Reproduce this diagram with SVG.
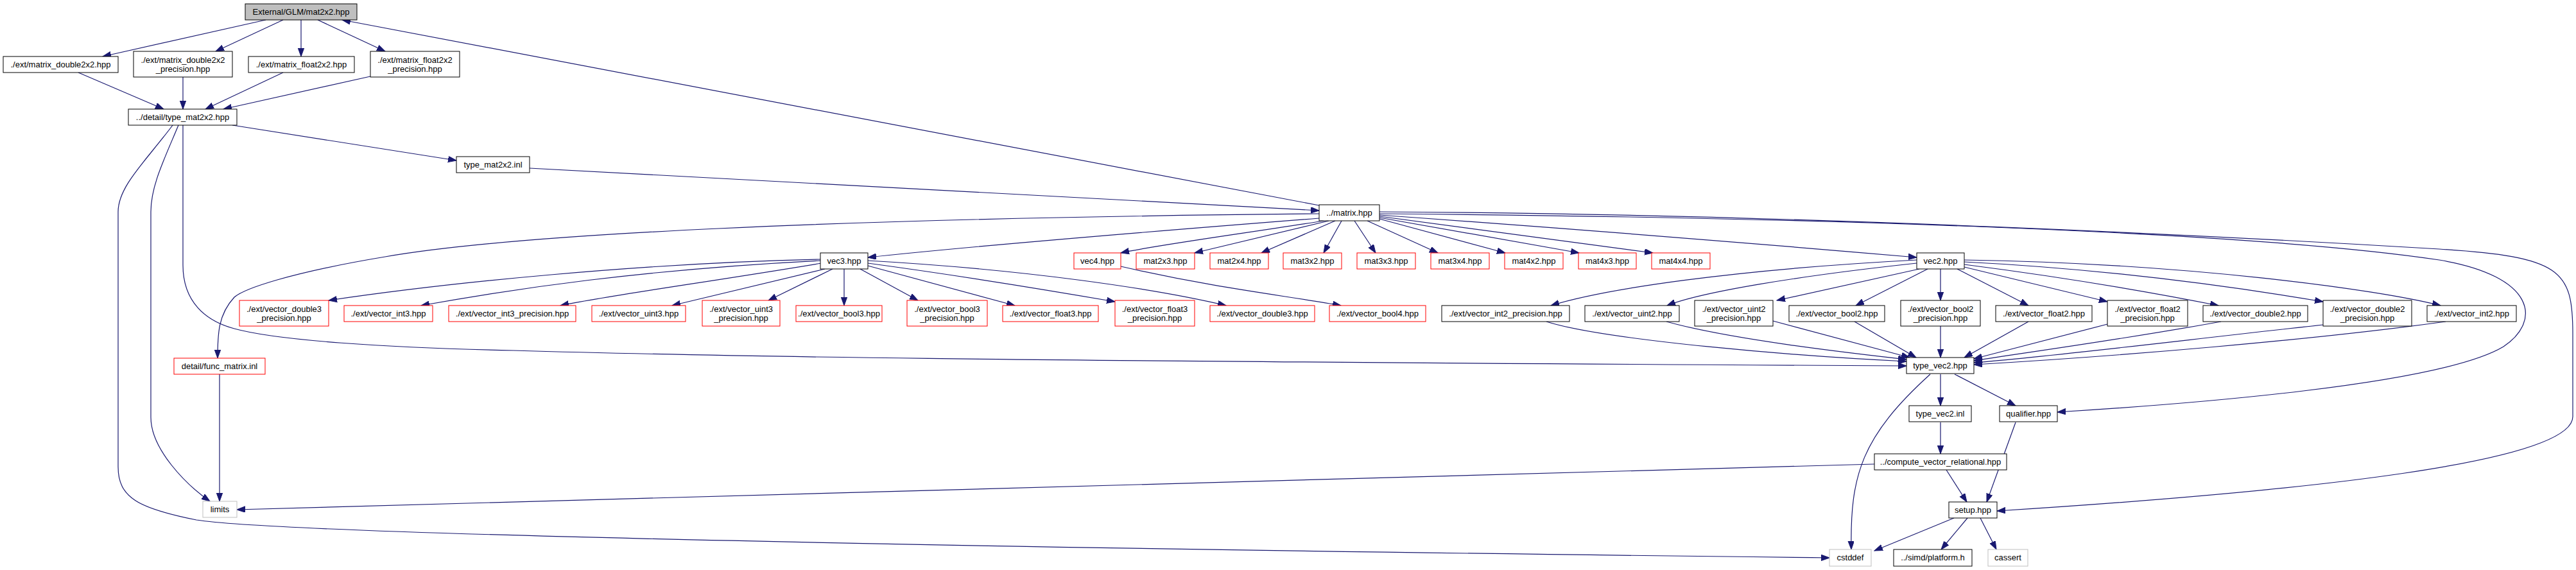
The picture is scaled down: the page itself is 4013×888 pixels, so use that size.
<svg xmlns="http://www.w3.org/2000/svg" width="4013" height="888" viewBox="0 0 4013 888">
<style>
.n rect{fill:#fff;stroke:#000;stroke-width:1}
.n.r rect{stroke:#ff0000}
.n.g rect{stroke:#bfbfbf}
.n.m rect{fill:#bfbfbf}
text{font-family:"Liberation Sans",Arial,sans-serif;font-size:13px;text-anchor:middle;fill:#000}
#edges path{fill:none;stroke:#191970;stroke-width:1.2;marker-end:url(#a)}
</style>
<defs>
<marker id="a" markerUnits="userSpaceOnUse" markerWidth="14" markerHeight="10" refX="13" refY="4.7" orient="auto"><path d="M0,0 L13,4.7 L0,9.4 z" fill="#191970" stroke="#191970" stroke-width="1"/></marker>
</defs>
<rect width="4013" height="888" fill="#fff"/>
<g id="edges">
<path d="M414,31 L160,88"/>
<path d="M441,31 L336,80"/>
<path d="M469,31 L469,88"/>
<path d="M495,31 L600,80"/>
<path d="M2055,320 L533,31"/>
<path d="M122,113 L255,170"/>
<path d="M285,120 L285,170"/>
<path d="M441,113 L320,170"/>
<path d="M577,119 L348,170"/>
<path d="M362,195 L711,250"/>
<path d="M825,262 L2055,328"/>
<path d="M278,195 C255,250 235,290 235,330 L235,650 C235,700 290,755 327,781"/>
<path d="M269,195 C228,250 184,290 184,330 L184,727 C184,775 215,792 306,810 C420,828 1200,850 2850,869"/>
<path d="M285,195 L285,413 C285,470 320,500 365,512 C430,530 600,542 800,546 C1100,555 1500,562 2970,570"/>
<path d="M2055,333 C1300,340 800,365 600,400 C450,425 380,450 365,463 C340,490 339,520 339,558"/>
<path d="M342,583 L342,781"/>
<path d="M2920,723 L369,794"/>
<path d="M2055,340 C1800,360 1500,385 1352,401"/>
<path d="M2062,344 C1950,362 1800,382 1746,394"/>
<path d="M2070,344 L1861,394"/>
<path d="M2080,344 L1965,394"/>
<path d="M2090,344 L2062,394"/>
<path d="M2110,344 L2143,394"/>
<path d="M2130,344 L2240,394"/>
<path d="M2149,341 L2345,394"/>
<path d="M2149,339 L2460,394"/>
<path d="M2149,337 L2575,394"/>
<path d="M2149,335 C2500,360 2800,385 2986,401"/>
<path d="M2149,333 C2800,338 3500,360 3800,405 C3950,430 3960,500 3900,540 C3800,600 3400,630 3205,642"/>
<path d="M2149,330 C2800,333 3500,370 3800,388 C3990,400 4008,420 4008,520 L4008,649 C4008,720 3600,765 3111,796"/>
<path d="M1278,404 C1000,410 700,440 512,468"/>
<path d="M1278,406 C1000,420 800,450 656,476"/>
<path d="M1280,410 C1100,440 950,460 873,476"/>
<path d="M1285,419 L1047,476"/>
<path d="M1297,419 L1197,468"/>
<path d="M1315,419 L1315,476"/>
<path d="M1340,419 L1430,468"/>
<path d="M1352,414 L1581,476"/>
<path d="M1352,410 C1500,430 1650,455 1737,470"/>
<path d="M1352,406 C1600,420 1800,450 1910,476"/>
<path d="M1746,415 C1900,450 2000,460 2089,476"/>
<path d="M2986,405 C2700,420 2500,450 2416,476"/>
<path d="M2986,410 C2800,430 2650,455 2597,476"/>
<path d="M2990,419 L2768,468"/>
<path d="M3003,419 L2891,476"/>
<path d="M3023,419 L3023,468"/>
<path d="M3049,419 L3160,476"/>
<path d="M3060,416 L3283,470"/>
<path d="M3060,412 C3200,430 3350,455 3456,476"/>
<path d="M3060,408 C3300,420 3500,450 3619,470"/>
<path d="M3060,405 C3400,410 3700,450 3802,476"/>
<path d="M2409,501 C2500,530 2800,555 2970,563"/>
<path d="M2596,501 C2700,530 2900,552 2970,560"/>
<path d="M2762,500 L2975,557"/>
<path d="M2889,501 L2985,557"/>
<path d="M3023,508 L3023,557"/>
<path d="M3160,501 L3060,557"/>
<path d="M3283,505 L3075,559"/>
<path d="M3460,501 C3300,530 3150,550 3075,562"/>
<path d="M3619,506 C3400,530 3200,555 3075,565"/>
<path d="M3810,501 C3600,530 3300,555 3075,568"/>
<path d="M3023,583 L3023,632"/>
<path d="M3007,583 C2900,680 2882,740 2884,856"/>
<path d="M3045,583 L3140,632"/>
<path d="M3023,658 L3023,707"/>
<path d="M3032,732 L3064,782"/>
<path d="M3044,807 L2920,858"/>
<path d="M3065,807 L3024,856"/>
<path d="M3085,807 L3110,856"/>
<path d="M3140,658 L3095,782"/>
</g>
<g id="n_main" class="n m"><rect x="382" y="6" width="174" height="25"/><text x="469" y="23">External/GLM/mat2x2.hpp</text></g>
<g id="n_md2" class="n"><rect x="5" y="88" width="179" height="25"/><text x="94.5" y="105">./ext/matrix_double2x2.hpp</text></g>
<g id="n_md2p" class="n"><rect x="208" y="80" width="154" height="40"/><text x="285" y="98">./ext/matrix_double2x2</text><text x="285" y="112">_precision.hpp</text></g>
<g id="n_mf2" class="n"><rect x="387" y="88" width="165" height="25"/><text x="469.5" y="105">./ext/matrix_float2x2.hpp</text></g>
<g id="n_mf2p" class="n"><rect x="577" y="80" width="139" height="40"/><text x="646.5" y="98">./ext/matrix_float2x2</text><text x="646.5" y="112">_precision.hpp</text></g>
<g id="n_tm" class="n"><rect x="200" y="170" width="169" height="25"/><text x="284.5" y="187">../detail/type_mat2x2.hpp</text></g>
<g id="n_tminl" class="n"><rect x="711" y="244" width="114" height="25"/><text x="768" y="261">type_mat2x2.inl</text></g>
<g id="n_matrix" class="n"><rect x="2055" y="319" width="94" height="25"/><text x="2102" y="336">../matrix.hpp</text></g>
<g id="n_vec3" class="n"><rect x="1278" y="394" width="74" height="25"/><text x="1315" y="411">vec3.hpp</text></g>
<g id="n_vec4" class="n r"><rect x="1673" y="394" width="73" height="25"/><text x="1709.5" y="411">vec4.hpp</text></g>
<g id="n_m23" class="n r"><rect x="1770" y="394" width="91" height="25"/><text x="1815.5" y="411">mat2x3.hpp</text></g>
<g id="n_m24" class="n r"><rect x="1885" y="394" width="91" height="25"/><text x="1930.5" y="411">mat2x4.hpp</text></g>
<g id="n_m32" class="n r"><rect x="1999" y="394" width="91" height="25"/><text x="2044.5" y="411">mat3x2.hpp</text></g>
<g id="n_m33" class="n r"><rect x="2114" y="394" width="91" height="25"/><text x="2159.5" y="411">mat3x3.hpp</text></g>
<g id="n_m34" class="n r"><rect x="2229" y="394" width="91" height="25"/><text x="2274.5" y="411">mat3x4.hpp</text></g>
<g id="n_m42" class="n r"><rect x="2344" y="394" width="91" height="25"/><text x="2389.5" y="411">mat4x2.hpp</text></g>
<g id="n_m43" class="n r"><rect x="2459" y="394" width="90" height="25"/><text x="2504" y="411">mat4x3.hpp</text></g>
<g id="n_m44" class="n r"><rect x="2573" y="394" width="91" height="25"/><text x="2618.5" y="411">mat4x4.hpp</text></g>
<g id="n_vec2" class="n"><rect x="2986" y="394" width="74" height="25"/><text x="3023" y="411">vec2.hpp</text></g>
<g id="n_func" class="n r"><rect x="271" y="558" width="142" height="25"/><text x="342" y="575">detail/func_matrix.inl</text></g>
<g id="n_vd3p" class="n r"><rect x="373" y="468" width="139" height="40"/><text x="442.5" y="486">./ext/vector_double3</text><text x="442.5" y="500">_precision.hpp</text></g>
<g id="n_vi3" class="n r"><rect x="536" y="476" width="138" height="25"/><text x="605" y="493">./ext/vector_int3.hpp</text></g>
<g id="n_vi3p" class="n r"><rect x="699" y="476" width="198" height="25"/><text x="798" y="493">./ext/vector_int3_precision.hpp</text></g>
<g id="n_vu3" class="n r"><rect x="922" y="476" width="146" height="25"/><text x="995" y="493">./ext/vector_uint3.hpp</text></g>
<g id="n_vu3p" class="n r"><rect x="1094" y="468" width="121" height="40"/><text x="1154.5" y="486">./ext/vector_uint3</text><text x="1154.5" y="500">_precision.hpp</text></g>
<g id="n_vb3" class="n r"><rect x="1240" y="476" width="134" height="25"/><text x="1307" y="493">./ext/vector_bool3.hpp</text></g>
<g id="n_vb3p" class="n r"><rect x="1413" y="468" width="125" height="40"/><text x="1475.5" y="486">./ext/vector_bool3</text><text x="1475.5" y="500">_precision.hpp</text></g>
<g id="n_vf3" class="n r"><rect x="1562" y="476" width="149" height="25"/><text x="1636.5" y="493">./ext/vector_float3.hpp</text></g>
<g id="n_vf3p" class="n r"><rect x="1737" y="468" width="124" height="40"/><text x="1799" y="486">./ext/vector_float3</text><text x="1799" y="500">_precision.hpp</text></g>
<g id="n_vdb3" class="n r"><rect x="1885" y="476" width="163" height="25"/><text x="1966.5" y="493">./ext/vector_double3.hpp</text></g>
<g id="n_vb4" class="n r"><rect x="2071" y="476" width="150" height="25"/><text x="2146" y="493">./ext/vector_bool4.hpp</text></g>
<g id="n_vi2p" class="n"><rect x="2246" y="476" width="199" height="25"/><text x="2345.5" y="493">./ext/vector_int2_precision.hpp</text></g>
<g id="n_vu2" class="n"><rect x="2469" y="476" width="147" height="25"/><text x="2542.5" y="493">./ext/vector_uint2.hpp</text></g>
<g id="n_vu2p" class="n"><rect x="2640" y="468" width="122" height="40"/><text x="2701" y="486">./ext/vector_uint2</text><text x="2701" y="500">_precision.hpp</text></g>
<g id="n_vb2" class="n"><rect x="2787" y="476" width="149" height="25"/><text x="2861.5" y="493">./ext/vector_bool2.hpp</text></g>
<g id="n_vb2p" class="n"><rect x="2961" y="468" width="124" height="40"/><text x="3023" y="486">./ext/vector_bool2</text><text x="3023" y="500">_precision.hpp</text></g>
<g id="n_vf2" class="n"><rect x="3109" y="476" width="150" height="25"/><text x="3184" y="493">./ext/vector_float2.hpp</text></g>
<g id="n_vf2p" class="n"><rect x="3283" y="468" width="125" height="40"/><text x="3345.5" y="486">./ext/vector_float2</text><text x="3345.5" y="500">_precision.hpp</text></g>
<g id="n_vdb2" class="n"><rect x="3432" y="476" width="163" height="25"/><text x="3513.5" y="493">./ext/vector_double2.hpp</text></g>
<g id="n_vdb2p" class="n"><rect x="3619" y="468" width="138" height="40"/><text x="3688" y="486">./ext/vector_double2</text><text x="3688" y="500">_precision.hpp</text></g>
<g id="n_vi2" class="n"><rect x="3781" y="476" width="139" height="25"/><text x="3850.5" y="493">./ext/vector_int2.hpp</text></g>
<g id="n_tv2" class="n"><rect x="2970" y="557" width="105" height="25"/><text x="3022.5" y="574">type_vec2.hpp</text></g>
<g id="n_tv2inl" class="n"><rect x="2974" y="632" width="97" height="25"/><text x="3022.5" y="649">type_vec2.inl</text></g>
<g id="n_qual" class="n"><rect x="3115" y="632" width="90" height="25"/><text x="3160" y="649">qualifier.hpp</text></g>
<g id="n_comp" class="n"><rect x="2920" y="707" width="206" height="25"/><text x="3023" y="724">../compute_vector_relational.hpp</text></g>
<g id="n_limits" class="n g"><rect x="316" y="781" width="53" height="25"/><text x="342.5" y="798">limits</text></g>
<g id="n_setup" class="n"><rect x="3036" y="782" width="75" height="25"/><text x="3073.5" y="799">setup.hpp</text></g>
<g id="n_cstddef" class="n g"><rect x="2850" y="856" width="65" height="26"/><text x="2882.5" y="873">cstddef</text></g>
<g id="n_platform" class="n"><rect x="2950" y="856" width="122" height="26"/><text x="3011" y="873">../simd/platform.h</text></g>
<g id="n_cassert" class="n g"><rect x="3097" y="856" width="62" height="26"/><text x="3128" y="873">cassert</text></g>
</svg>
